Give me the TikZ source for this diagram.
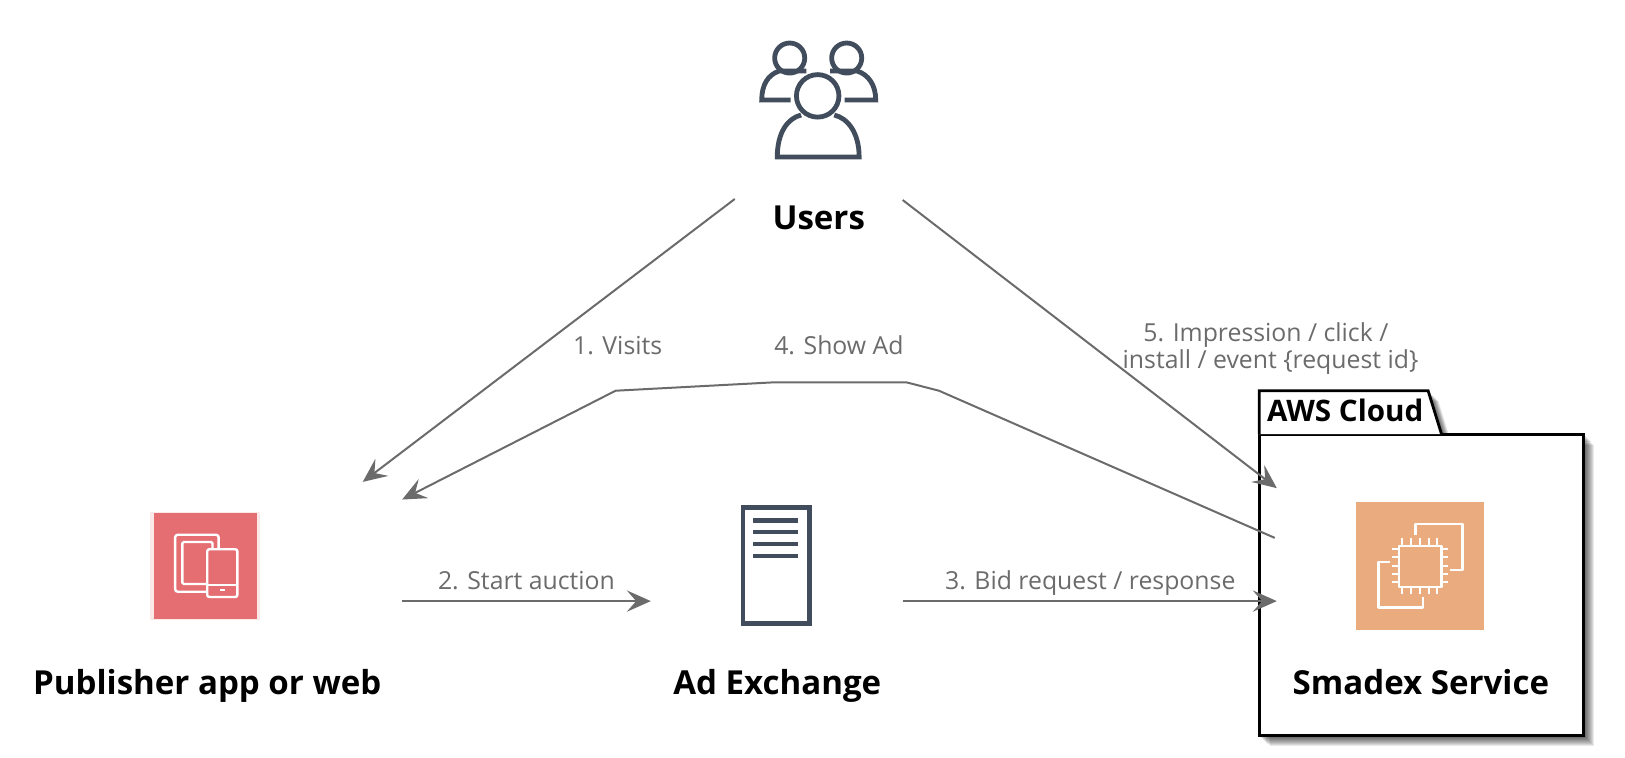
\documentclass[tikz,border=0pt]{standalone}
\usepackage{fontspec}
\setmainfont{Open Sans}
\usetikzlibrary{arrows.meta}
\definecolor{slateic}{HTML}{414D5C}
\definecolor{lnk}{HTML}{6B6B6B}
\definecolor{pinkbox}{HTML}{E56E73}
\definecolor{orangebox}{HTML}{EAAB7E}
\tikzset{
  x=0.7772pt,y=-0.7772pt,
  conn/.style={draw=lnk,line width=1.5pt,-{Stealth[length=18pt,width=16pt,inset=7pt]}},
  title/.style={font=\fontsize{24.8pt}{29pt}\selectfont\bfseries,text=black,inner sep=0pt,anchor=base},
  lab/.style={font=\fontsize{18.6pt}{20.4pt}\selectfont,text=lnk,inner sep=0pt,align=center,anchor=base},
  ic/.style={draw=slateic,line width=3.6pt},
  wh/.style={draw=white,line width=1.8pt},
  pin/.style={draw=white,line width=1.5pt},
  pkg/.style={draw=black,line width=2.1pt,fill=white,line join=miter},
}
\begin{document}
\begin{tikzpicture}
\useasboundingbox (0,0) rectangle (1568,731.4);
% shadow of the package
\foreach \o in {1,...,10}{
  \fill[black,opacity=0.085] (1215+\o,419+\o) rectangle (1528+\o,710+\o);
  \fill[black,opacity=0.085] (1215+\o,377+\o) -- (1378+\o,377+\o) -- (1391+\o,419+\o) -- (1215+\o,419+\o) -- cycle;
}
% package
\draw[pkg] (1215,419) rectangle (1528,710);
\draw[pkg] (1215,419) -- (1215,377) -- (1378,377) -- (1391,419);
\node[font=\fontsize{22.2pt}{26pt}\selectfont\bfseries,inner sep=0pt,anchor=base] (cloud) at (1298,407) {AWS Cloud};
% Users icon
\draw[ic] (762,56) circle (14.5);
\draw[ic] (817,56) circle (14.5);
\draw[ic,fill=white] (789,92.5) circle (20.5);
\draw[ic] (778,68.5) -- (752,68.5) .. controls (741,72) and (735,82) .. (735,96.5) -- (763,96.5);
\draw[ic] (801,68.5) -- (827,68.5) .. controls (838,72) and (845,82) .. (845,96.5) -- (815,96.5);
\draw[ic,line join=miter] (773,111) .. controls (760,114) and (750,128) .. (750,151.5) -- (829,151.5) .. controls (829,128) and (818,114) .. (805,111);
\node[title] (users) at (790,221) {Users};
% Publisher
\fill[pinkbox!15] (145,494) rectangle (251,598);
\fill[pinkbox] (148.5,495) rectangle (248,597);
\draw[wh,rounded corners=2pt] (200,571) -- (169,571) -- (169,516) -- (211,516) -- (211,530);
\draw[wh,rounded corners=1pt] (200,563.5) -- (176,563.5) -- (176,523) -- (205,523) -- (205,530);
\draw[wh,rounded corners=1.5pt] (200,530) rectangle (229,576);
\draw[wh] (200,564.5) -- (229,564.5);
\draw[pin] (212,569) -- (217.5,569);
\node[title] (pub) at (200,670) {Publisher app or web};
% Ad exchange
\draw[ic] (717,490) rectangle (781,601.5);
\foreach \yy in {502,513.5,525,536.5}{\draw[draw=slateic,line width=3.4pt] (727,\yy) -- (770,\yy);}
\node[title] (ad) at (750,670) {Ad Exchange};
% Service
\fill[orangebox] (1308,484) rectangle (1432,608);
\draw[wh,line join=round] (1366,516) -- (1366,505.6) -- (1411,505.6) -- (1411,550) -- (1399,550);
\draw[wh,line join=round] (1341,542) -- (1330,542) -- (1330,586) -- (1373,586) -- (1373,576);
\draw[wh,line join=round] (1350,527) rectangle (1391,566.5);
\foreach \xx in {1353,1361.5,1370,1378.5,1387}{
  \draw[pin] (\xx,519.5) -- (\xx,527);
  \draw[pin] (\xx,566.5) -- (\xx,573);
}
\foreach \yy in {530,537.5,546,554,561.5}{
  \draw[pin] (1343.5,\yy) -- (1350,\yy);
  \draw[pin] (1391,\yy) -- (1397,\yy);
}
\node[title] (svc) at (1371,670) {Smadex Service};
% endpoints
\coordinate (u1) at (709,192);
\coordinate (u1e) at (350,465);
\coordinate (u2) at (871,193);
\coordinate (u2e) at (1232,471);
\coordinate (s4) at (1230,519);
\coordinate (p4) at (388,482);
\coordinate (p2) at (388,580);
\coordinate (a2) at (628,580);
\coordinate (a3) at (871,580);
\coordinate (s3) at (1232,580);
% connectors
\draw[conn] (u1) -- (u1e);
\draw[conn] (u2) -- (u2e);
\draw[conn] (s4) -- (906,377) -- (875,369) -- (745,369) -- (594,377) -- (p4);
\draw[conn] (p2) -- (a2);
\draw[conn] (a3) -- (s3);
% labels
\node[lab] (l1) at (596,342) {1. Visits};
\node[lab] (l4) at (809.5,342) {4. Show Ad};
\node[lab,anchor=center] (l5) at (1226,336) {5. Impression / click /\hspace*{7pt}\\install / event \{request id\}};
\node[lab] (l2) at (508,569) {2. Start auction};
\node[lab] (l3) at (1052,569) {3. Bid request / response};
\end{tikzpicture}
\end{document}
